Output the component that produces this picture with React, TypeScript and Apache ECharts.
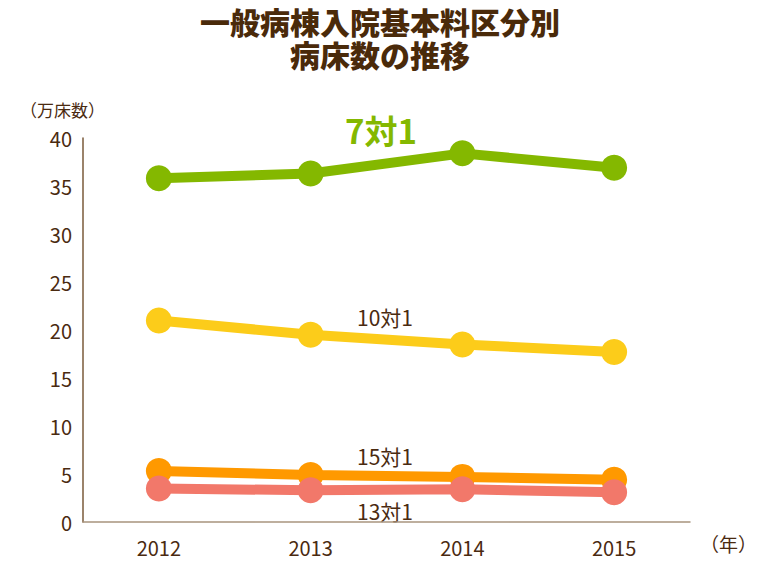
import React, { useEffect, useRef } from "react";
import * as echarts from "echarts";

const years = ["2012", "2013", "2014", "2015"];
const s7 = [35.8, 36.3, 38.4, 36.9];
const s10 = [21.0, 19.5, 18.5, 17.7];
const s15 = [5.3, 4.9, 4.7, 4.4];
const s13 = [3.5, 3.3, 3.4, 3.1];
const seriesNames = ["7対1", "10対1", "15対1", "13対1"];
const colors = ["#84b800", "#fccc1a", "#ff9900", "#f2786a"];
const titleLines = ["一般病棟入院基本料区分別", "病床数の推移"];

const brown = "#4a2a10";
const font = "'Noto Sans CJK JP', 'Noto Sans', sans-serif";

export default function App() {
  const ref = useRef<HTMLDivElement>(null);
  useEffect(() => {
    if (!ref.current) return;
    const chart = echarts.init(ref.current, undefined, { renderer: "svg" });
    const datas = [s7, s10, s15, s13];
    chart.setOption({
      animation: false,
      backgroundColor: "#ffffff",
      textStyle: { fontFamily: font },
      title: titleLines.map((t, i) => ({
        text: t,
        left: "center",
        top: 6 + i * 33,
        padding: 0,
        textStyle: {
          fontSize: 30,
          fontWeight: 900,
          color: "#4a2a0a",
          lineHeight: 30,
          fontFamily: font,
        },
      })),
      grid: { left: 83, right: 70, top: 138, bottom: 48 },
      xAxis: {
        type: "category",
        data: years,
        boundaryGap: true,
        axisLine: { lineStyle: { color: "#a8947e", width: 1.5 } },
        axisTick: { show: false },
        axisLabel: { color: brown, fontSize: 20, margin: 15, fontFamily: font },
      },
      yAxis: {
        type: "value",
        min: 0,
        max: 40,
        interval: 5,
        axisLine: { show: true, lineStyle: { color: "#7a5a3a", width: 1.5 } },
        axisTick: { show: false },
        splitLine: { show: false },
        axisLabel: { color: brown, fontSize: 20, margin: 11, fontFamily: font },
      },
      series: datas.map((d, i) => ({
        name: seriesNames[i],
        type: "line",
        data: d,
        symbol: "circle",
        symbolSize: 26,
        itemStyle: { color: colors[i] },
        lineStyle: { color: colors[i], width: 10 },
        z: 2 + i,
      })),
      graphic: [
        {
          type: "text",
          left: 20,
          top: 101,
          style: { text: "（万床数）", fill: brown, fontSize: 17, fontFamily: font },
        },
        {
          type: "text",
          left: 700,
          top: 534,
          style: { text: "（年）", fill: brown, fontSize: 19, fontFamily: font },
        },
        {
          type: "text",
          x: 381,
          y: 130,
          style: {
            text: "7対1",
            fill: colors[0],
            fontSize: 33,
            fontWeight: "bold",
            fontFamily: font,
            align: "center",
            verticalAlign: "middle",
          },
        },
        {
          type: "text",
          x: 385,
          y: 317,
          style: { text: "10対1", fill: brown, fontSize: 21, fontFamily: font, align: "center", verticalAlign: "middle" },
        },
        {
          type: "text",
          x: 385,
          y: 456,
          style: { text: "15対1", fill: brown, fontSize: 21, fontFamily: font, align: "center", verticalAlign: "middle" },
        },
        {
          type: "text",
          x: 385,
          y: 511,
          style: { text: "13対1", fill: brown, fontSize: 21, fontFamily: font, align: "center", verticalAlign: "middle" },
        },
      ],
    });
    return () => chart.dispose();
  }, []);
  return <div ref={ref} style={{ width: 760, height: 570, margin: -8 }} />;
}
